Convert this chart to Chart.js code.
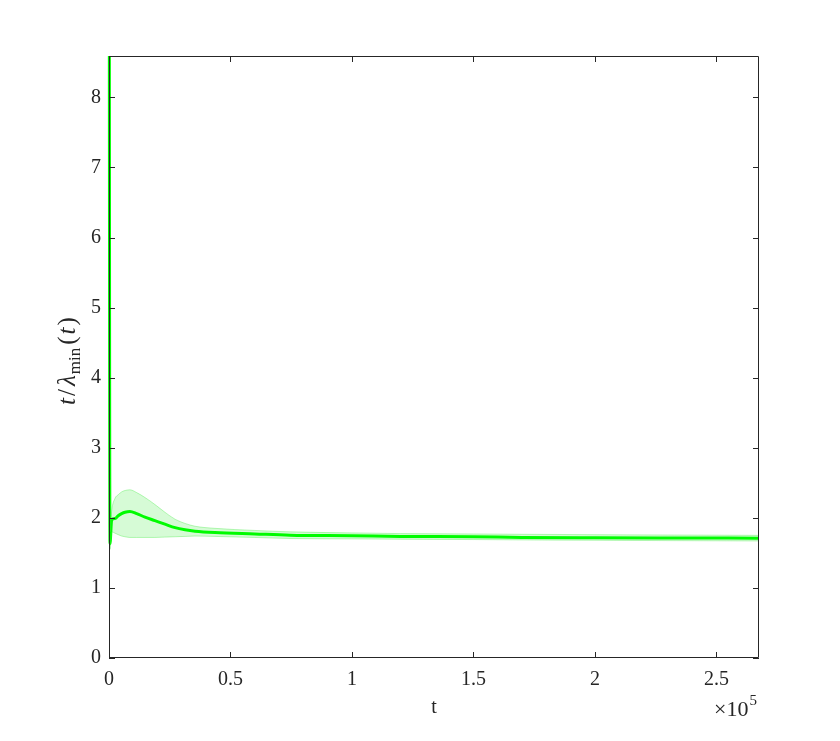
<!DOCTYPE html>
<html>
<head>
<meta charset="utf-8">
<script src="https://cdn.jsdelivr.net/npm/chart.js@4.4.1/dist/chart.umd.min.js"></script>
<style>
  body { margin: 0; background: #fff; }
  #wrap { width: 840px; height: 741px; position: relative; }
</style>
</head>
<body>
<div id="wrap"><canvas id="ratioChart"></canvas></div>
<script>
/* Values */
const tValues = [0, 400, 1100, 2500, 3800, 5200, 6600, 8600, 11400, 14800, 18900, 23000, 27200, 31300, 35400, 43600, 60000, 74500, 100000, 120000, 150000, 170000, 200000, 230000, 267500];
const meanValues = [14, 1.63, 1.97, 1.99, 2.03, 2.06, 2.08, 2.09, 2.06, 2.01, 1.96, 1.91, 1.86, 1.83, 1.81, 1.79, 1.77, 1.753, 1.745, 1.735, 1.73, 1.72, 1.715, 1.713, 1.71];
const upperValues = [16, 1.80, 2.10, 2.28, 2.33, 2.37, 2.39, 2.40, 2.36, 2.29, 2.19, 2.08, 1.98, 1.92, 1.88, 1.85, 1.82, 1.80, 1.785, 1.775, 1.77, 1.765, 1.76, 1.755, 1.75];
const lowerValues = [12, 1.55, 1.80, 1.78, 1.76, 1.74, 1.73, 1.72, 1.72, 1.72, 1.72, 1.725, 1.73, 1.735, 1.74, 1.735, 1.72, 1.705, 1.70, 1.695, 1.69, 1.685, 1.68, 1.675, 1.67];
const yTickValues = [0, 1, 2, 3, 4, 5, 6, 7, 8];
const xTickValues = [0, 50000, 100000, 150000, 200000, 250000];

const axisColor = '#262626';
const serif = '"Liberation Serif", "DejaVu Serif", serif';

const toPoints = function(ys) {
    return tValues.map((t, i) => ({ x: t, y: ys[i] }));
}

/* MATLAB style box, inward ticks and the labels */
const matlabAxes = {
    id: 'matlabAxes',
    afterDatasetsDraw(chart) {
        const ctx = chart.ctx;
        const a = chart.chartArea;
        const xs = chart.scales.x;
        const ys = chart.scales.y;
        const tick = 6;
        ctx.save();
        ctx.strokeStyle = axisColor;
        ctx.lineWidth = 1;
        ctx.beginPath();
        ctx.rect(a.left + 0.5, a.top + 0.5, a.right - a.left - 1, a.bottom - a.top - 1);
        yTickValues.forEach((v) => {
            const py = Math.round(ys.getPixelForValue(v)) + 0.5;
            ctx.moveTo(a.left, py); ctx.lineTo(a.left + tick, py);
            ctx.moveTo(a.right, py); ctx.lineTo(a.right - tick, py);
        });
        xTickValues.forEach((v) => {
            const px = Math.round(xs.getPixelForValue(v)) + 0.5;
            ctx.moveTo(px, a.bottom); ctx.lineTo(px, a.bottom - tick);
            ctx.moveTo(px, a.top); ctx.lineTo(px, a.top + tick);
        });
        ctx.stroke();

        ctx.fillStyle = axisColor;
        // x label
        ctx.font = '20px ' + serif;
        ctx.textAlign = 'center';
        ctx.textBaseline = 'alphabetic';
        ctx.fillText('t', (a.left + a.right) / 2, 713);

        // x10^5 exponent
        ctx.textAlign = 'left';
        ctx.font = '22px ' + serif;
        ctx.fillText('\u00d710', 714, 716);
        const w10 = ctx.measureText('\u00d710').width;
        ctx.font = '15px ' + serif;
        ctx.fillText('5', 715 + w10, 705);

        // y label: t/λ_min(t)
        const parts = [
            { s: 't', f: 'italic 25px ' + serif, dy: 0, gap: 2 },
            { s: '/', f: '25px ' + serif, dy: 0, gap: 3 },
            { s: '\u03bb', f: 'italic 25px ' + serif, dy: 0, gap: 1 },
            { s: 'min', f: '17px ' + serif, dy: 5, gap: 3 },
            { s: '(', f: '25px ' + serif, dy: 0, gap: 2 },
            { s: 't', f: 'italic 25px ' + serif, dy: 0, gap: 2 },
            { s: ')', f: '25px ' + serif, dy: 0, gap: 0 }
        ];
        let total = 0;
        parts.forEach((p) => { ctx.font = p.f; p.w = ctx.measureText(p.s).width + p.gap; total += p.w; });
        ctx.translate(75, 361);
        ctx.rotate(-Math.PI / 2);
        let cx = -total / 2;
        parts.forEach((p) => {
            ctx.font = p.f;
            ctx.fillText(p.s, cx, p.dy);
            cx += p.w;
        });
        ctx.restore();
    }
};

const ctx = document.getElementById('ratioChart');
new Chart(ctx, {
    type: 'line',
    data: {
        datasets: [
            {
                label: 'upper',
                data: toPoints(upperValues),
                borderColor: 'rgba(60, 235, 60, 0.35)',
                borderWidth: 1,
                pointRadius: 0,
                fill: false,
                cubicInterpolationMode: 'monotone'
            },
            {
                label: 'lower',
                data: toPoints(lowerValues),
                borderColor: 'rgba(60, 235, 60, 0.35)',
                backgroundColor: 'rgba(0, 230, 0, 0.16)',
                borderWidth: 1,
                pointRadius: 0,
                fill: '-1',
                cubicInterpolationMode: 'monotone'
            },
            {
                label: 'mean',
                data: toPoints(meanValues),
                borderColor: '#00ff00',
                borderWidth: 3,
                pointRadius: 0,
                fill: false,
                clip: { left: 3, top: 0, right: 0, bottom: 0 },
                cubicInterpolationMode: 'monotone'
            }
        ]
    },
    options: {
        responsive: true,
        maintainAspectRatio: false,
        animation: false,
        devicePixelRatio: 1,
        layout: { padding: { left: 0, right: 81, top: 56, bottom: 0 } },
        plugins: {
            legend: { display: false },
            tooltip: { enabled: false }
        },
        scales: {
            x: {
                type: 'linear',
                min: 0,
                max: 267500,
                grid: { display: false, drawTicks: false },
                border: { display: false },
                afterFit: function(scale) { scale.height = 83; },
                afterBuildTicks: function(scale) { scale.ticks = xTickValues.map((v) => ({ value: v })); },
                ticks: {
                    padding: 10,
                    maxRotation: 0,
                    autoSkip: false,
                    color: axisColor,
                    font: { family: serif, size: 20 },
                    callback: function(v) { return String(v / 100000); }
                }
            },
            y: {
                min: 0,
                max: 8.59,
                grid: { display: false, drawTicks: false },
                border: { display: false },
                afterFit: function(scale) { scale.width = 109; },
                afterBuildTicks: function(scale) { scale.ticks = yTickValues.map((v) => ({ value: v })); },
                ticks: {
                    padding: 8,
                    autoSkip: false,
                    color: axisColor,
                    font: { family: serif, size: 20 }
                }
            }
        }
    },
    plugins: [matlabAxes]
});
</script>
</body>
</html>
